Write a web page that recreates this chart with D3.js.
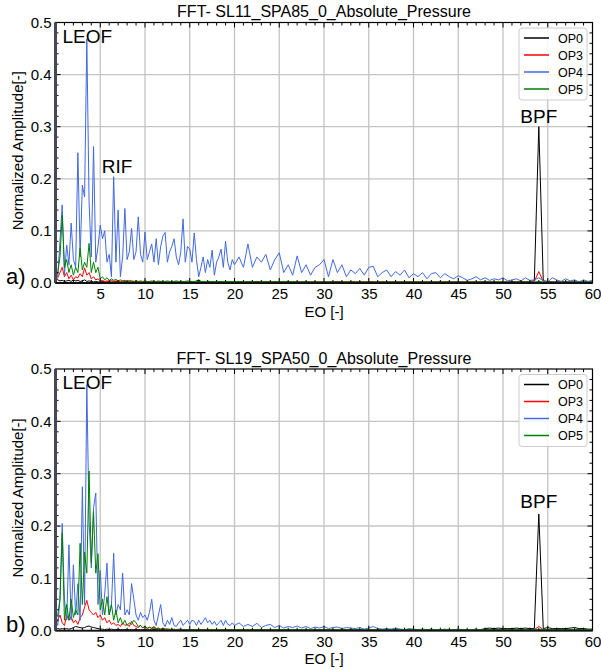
<!DOCTYPE html>
<html><head><meta charset="utf-8">
<script src="https://cdn.jsdelivr.net/npm/d3@7"></script>
<style>body{margin:0;background:#fff} text{font-family:"Liberation Sans",Arial,sans-serif;fill:#000}</style>
</head><body><svg id="c" width="601" height="670"></svg>
<script>
// EO sampling grid: 0..19.75 step 0.25, then 20..60 step 0.5
const eo = d3.range(0, 20, 0.25).concat(d3.range(20, 60.001, 0.5));
const xTicks = [5,10,15,20,25,30,35,40,45,50,55,60];
const yTicks = [0,0.1,0.2,0.3,0.4,0.5];
const seriesNames = ["OP0","OP3","OP4","OP5"];
const seriesColors = ["#000000","#ff0000","#4169e1","#008000"];

// ---- Panel a) SL11_SPA85 ----
const a_OP0 = [
0.010,0.006,0.004,0.005,0.003,0.004,0.005,0.003,0.006,0.004,0.005,0.003,0.004,0.006,0.003,0.004,0.003,0.002,0.003,0.002,
0.002,0.003,0.002,0.002,0.003,0.002,0.002,0.003,0.002,0.002,0.002,0.003,0.002,0.002,0.002,0.003,0.002,0.002,0.002,0.002,
0.002,0.002,0.003,0.002,0.002,0.002,0.002,0.003,0.002,0.002,0.002,0.002,0.002,0.003,0.002,0.002,0.002,0.002,0.003,0.002,
0.002,0.003,0.002,0.004,0.006,0.003,0.002,0.002,0.002,0.003,0.002,0.002,0.002,0.002,0.003,0.002,0.002,0.002,0.002,0.002,
0.002,0.003,0.002,0.002,0.002,0.003,0.002,0.002,0.002,0.002,0.002,0.002,0.003,0.002,0.002,0.002,0.002,0.002,0.002,0.002,
0.002,0.002,0.002,0.003,0.002,0.002,0.002,0.002,0.002,0.002,0.002,0.002,0.002,0.002,0.002,0.002,0.002,0.002,0.002,0.002,
0.002,0.002,0.002,0.002,0.002,0.002,0.002,0.002,0.002,0.002,0.002,0.002,0.002,0.002,0.002,0.002,0.003,0.002,0.002,0.002,
0.002,0.002,0.003,0.002,0.003,0.002,0.003,0.004,0.300,0.004,0.003,0.002,0.002,0.002,0.002,0.002,0.002,0.002,0.002,0.002,
0.002];
const a_OP3 = [
0.005,0.010,0.020,0.030,0.012,0.020,0.008,0.015,0.006,0.012,0.010,0.018,0.012,0.029,0.015,0.020,0.008,0.012,0.006,0.008,
0.004,0.005,0.003,0.004,0.003,0.005,0.003,0.004,0.003,0.003,0.004,0.003,0.003,0.002,0.003,0.003,0.002,0.003,0.002,0.002,
0.002,0.002,0.002,0.002,0.002,0.002,0.002,0.002,0.002,0.002,0.002,0.002,0.002,0.002,0.002,0.002,0.002,0.002,0.002,0.002,
0.002,0.002,0.002,0.002,0.002,0.002,0.002,0.002,0.002,0.002,0.002,0.002,0.002,0.002,0.002,0.002,0.002,0.002,0.002,0.002,
0.002,0.002,0.002,0.002,0.002,0.002,0.002,0.002,0.002,0.002,0.002,0.002,0.002,0.002,0.002,0.002,0.002,0.002,0.002,0.002,
0.002,0.002,0.002,0.002,0.002,0.002,0.002,0.002,0.002,0.002,0.002,0.002,0.002,0.002,0.002,0.002,0.002,0.002,0.002,0.002,
0.002,0.002,0.002,0.002,0.002,0.002,0.002,0.002,0.002,0.002,0.002,0.002,0.002,0.002,0.002,0.002,0.002,0.002,0.002,0.002,
0.002,0.002,0.002,0.002,0.002,0.002,0.002,0.003,0.022,0.003,0.002,0.002,0.002,0.002,0.002,0.002,0.002,0.002,0.002,0.002,
0.002];
const a_OP4 = [
0.020,0.012,0.080,0.150,0.015,0.073,0.035,0.115,0.045,0.030,0.250,0.050,0.188,0.165,0.468,0.156,0.050,0.262,0.040,0.070,
0.111,0.085,0.100,0.040,0.055,0.012,0.204,0.040,0.140,0.012,0.050,0.143,0.045,0.060,0.105,0.045,0.060,0.127,0.055,0.040,
0.098,0.045,0.060,0.075,0.040,0.085,0.035,0.070,0.090,0.097,0.040,0.060,0.070,0.085,0.050,0.035,0.060,0.123,0.040,0.070,
0.065,0.040,0.096,0.045,0.012,0.030,0.050,0.020,0.045,0.030,0.063,0.015,0.040,0.050,0.065,0.030,0.080,0.040,0.025,0.045,
0.035,0.050,0.030,0.075,0.030,0.050,0.040,0.055,0.025,0.045,0.058,0.020,0.035,0.015,0.052,0.020,0.035,0.015,0.030,0.035,
0.045,0.012,0.045,0.020,0.035,0.012,0.025,0.018,0.028,0.015,0.030,0.032,0.012,0.020,0.025,0.012,0.022,0.015,0.025,0.010,
0.018,0.012,0.020,0.008,0.018,0.020,0.010,0.018,0.012,0.008,0.014,0.010,0.005,0.008,0.012,0.006,0.010,0.005,0.008,0.006,
0.010,0.004,0.006,0.008,0.004,0.010,0.005,0.006,0.010,0.004,0.002,0.010,0.006,0.003,0.008,0.004,0.006,0.002,0.006,0.003,
0.005];
const a_OP5 = [
0.010,0.020,0.050,0.130,0.030,0.045,0.020,0.035,0.015,0.030,0.020,0.067,0.025,0.040,0.030,0.076,0.020,0.040,0.020,0.030,
0.008,0.012,0.006,0.010,0.005,0.008,0.005,0.007,0.004,0.006,0.004,0.005,0.003,0.005,0.004,0.003,0.004,0.003,0.004,0.003,
0.004,0.003,0.003,0.004,0.003,0.003,0.004,0.003,0.003,0.003,0.004,0.003,0.003,0.003,0.004,0.003,0.003,0.003,0.003,0.004,
0.003,0.003,0.003,0.003,0.003,0.003,0.003,0.003,0.003,0.003,0.003,0.003,0.003,0.003,0.003,0.003,0.003,0.003,0.003,0.003,
0.003,0.003,0.002,0.003,0.003,0.002,0.003,0.003,0.002,0.003,0.002,0.003,0.002,0.003,0.002,0.002,0.003,0.002,0.002,0.002,
0.002,0.002,0.002,0.002,0.002,0.002,0.002,0.002,0.002,0.002,0.002,0.002,0.002,0.002,0.002,0.002,0.002,0.002,0.002,0.002,
0.002,0.002,0.002,0.002,0.002,0.002,0.002,0.002,0.002,0.002,0.002,0.002,0.002,0.002,0.002,0.002,0.002,0.002,0.002,0.002,
0.002,0.002,0.002,0.002,0.002,0.002,0.002,0.002,0.003,0.002,0.002,0.002,0.002,0.002,0.002,0.002,0.002,0.002,0.002,0.002,
0.002];

// ---- Panel b) SL19_SPA50 ----
const b_OP0 = [
0.005,0.004,0.003,0.004,0.003,0.004,0.003,0.004,0.006,0.008,0.007,0.006,0.005,0.006,0.008,0.009,0.007,0.006,0.005,0.004,
0.003,0.003,0.002,0.003,0.002,0.003,0.002,0.002,0.003,0.002,0.002,0.002,0.002,0.002,0.002,0.002,0.002,0.002,0.002,0.002,
0.002,0.002,0.002,0.002,0.002,0.002,0.002,0.002,0.002,0.002,0.002,0.002,0.002,0.002,0.002,0.002,0.002,0.002,0.002,0.002,
0.002,0.002,0.002,0.002,0.002,0.002,0.002,0.002,0.002,0.002,0.002,0.002,0.002,0.002,0.002,0.002,0.002,0.002,0.002,0.002,
0.002,0.002,0.002,0.002,0.002,0.002,0.002,0.002,0.002,0.002,0.002,0.002,0.002,0.002,0.002,0.002,0.002,0.002,0.002,0.002,
0.002,0.002,0.002,0.002,0.002,0.002,0.002,0.002,0.002,0.002,0.002,0.002,0.002,0.002,0.002,0.002,0.002,0.002,0.002,0.002,
0.002,0.002,0.002,0.002,0.002,0.002,0.002,0.002,0.002,0.002,0.002,0.002,0.002,0.002,0.002,0.002,0.004,0.005,0.004,0.005,
0.004,0.004,0.004,0.005,0.004,0.005,0.004,0.004,0.223,0.004,0.006,0.004,0.004,0.004,0.004,0.005,0.006,0.004,0.004,0.003,
0.003];
const b_OP3 = [
0.010,0.020,0.030,0.015,0.010,0.030,0.020,0.027,0.015,0.020,0.012,0.025,0.030,0.045,0.058,0.040,0.035,0.030,0.035,0.025,
0.030,0.020,0.025,0.015,0.020,0.012,0.015,0.010,0.012,0.008,0.015,0.010,0.012,0.008,0.018,0.010,0.008,0.006,0.010,0.005,
0.008,0.004,0.006,0.005,0.008,0.004,0.005,0.003,0.004,0.003,0.003,0.002,0.003,0.002,0.002,0.003,0.002,0.002,0.002,0.002,
0.002,0.002,0.002,0.002,0.002,0.002,0.002,0.002,0.002,0.002,0.002,0.002,0.002,0.002,0.002,0.002,0.002,0.002,0.002,0.002,
0.002,0.002,0.002,0.002,0.002,0.002,0.002,0.002,0.002,0.002,0.002,0.002,0.002,0.002,0.002,0.002,0.002,0.002,0.002,0.002,
0.002,0.002,0.002,0.002,0.002,0.002,0.002,0.002,0.002,0.002,0.002,0.002,0.002,0.002,0.002,0.002,0.002,0.002,0.002,0.002,
0.002,0.002,0.002,0.002,0.002,0.002,0.002,0.002,0.002,0.002,0.002,0.002,0.002,0.002,0.002,0.002,0.002,0.002,0.002,0.002,
0.002,0.002,0.002,0.002,0.002,0.002,0.002,0.002,0.008,0.002,0.002,0.002,0.002,0.002,0.002,0.002,0.002,0.002,0.002,0.002,
0.002];
const b_OP4 = [
0.020,0.010,0.060,0.205,0.060,0.020,0.164,0.020,0.126,0.030,0.090,0.020,0.275,0.050,0.470,0.210,0.120,0.235,0.263,0.050,
0.115,0.030,0.070,0.129,0.030,0.050,0.148,0.030,0.050,0.040,0.110,0.030,0.040,0.030,0.090,0.060,0.030,0.020,0.035,0.025,
0.030,0.020,0.035,0.060,0.020,0.010,0.030,0.050,0.015,0.008,0.020,0.012,0.025,0.010,0.008,0.015,0.020,0.010,0.015,0.020,
0.012,0.020,0.018,0.010,0.020,0.012,0.018,0.025,0.015,0.020,0.012,0.018,0.010,0.015,0.020,0.010,0.020,0.012,0.010,0.015,
0.010,0.015,0.008,0.012,0.008,0.014,0.006,0.010,0.012,0.006,0.010,0.005,0.008,0.006,0.009,0.005,0.008,0.004,0.007,0.005,
0.008,0.004,0.006,0.007,0.004,0.006,0.005,0.004,0.006,0.003,0.005,0.008,0.004,0.003,0.004,0.003,0.005,0.003,0.002,0.004,
0.003,0.002,0.003,0.002,0.003,0.002,0.002,0.003,0.002,0.002,0.003,0.002,0.002,0.002,0.003,0.002,0.002,0.002,0.002,0.002,
0.002,0.002,0.002,0.002,0.002,0.002,0.002,0.002,0.002,0.002,0.002,0.002,0.002,0.002,0.002,0.002,0.002,0.002,0.002,0.002,
0.002];
const b_OP5 = [
0.020,0.030,0.060,0.187,0.020,0.050,0.020,0.060,0.025,0.040,0.030,0.167,0.050,0.150,0.110,0.305,0.130,0.228,0.110,0.147,
0.040,0.060,0.030,0.065,0.030,0.050,0.020,0.040,0.015,0.025,0.012,0.020,0.010,0.015,0.012,0.020,0.015,0.008,0.010,0.006,
0.008,0.005,0.007,0.004,0.006,0.004,0.005,0.003,0.004,0.003,0.003,0.003,0.002,0.003,0.002,0.002,0.003,0.002,0.002,0.002,
0.002,0.002,0.002,0.002,0.002,0.002,0.002,0.002,0.002,0.002,0.002,0.002,0.002,0.002,0.002,0.002,0.002,0.002,0.002,0.002,
0.002,0.002,0.002,0.002,0.002,0.002,0.002,0.002,0.002,0.002,0.002,0.002,0.002,0.002,0.002,0.002,0.002,0.002,0.002,0.002,
0.002,0.002,0.002,0.002,0.002,0.002,0.002,0.002,0.002,0.002,0.002,0.002,0.002,0.002,0.002,0.002,0.002,0.002,0.002,0.002,
0.002,0.002,0.002,0.002,0.002,0.002,0.002,0.002,0.002,0.002,0.002,0.002,0.002,0.002,0.002,0.002,0.002,0.002,0.002,0.002,
0.002,0.002,0.002,0.002,0.002,0.002,0.002,0.002,0.002,0.002,0.002,0.002,0.002,0.002,0.002,0.002,0.002,0.002,0.002,0.002,
0.002];

const panels = [
  {title:"FFT- SL11_SPA85_0_Absolute_Pressure", tag:"a)", top:22.5, bottom:283,
   series:[a_OP0,a_OP3,a_OP4,a_OP5],
   notes:[{t:"LEOF",x:0.78,y:0.461},{t:"RIF",x:5.18,y:0.2105},{t:"BPF",x:51.94,y:0.3065}]},
  {title:"FFT- SL19_SPA50_0_Absolute_Pressure", tag:"b)", top:369, bottom:630.7,
   series:[b_OP0,b_OP3,b_OP4,b_OP5],
   notes:[{t:"LEOF",x:0.78,y:0.461},{t:"BPF",x:51.94,y:0.2345}]}
];

panels.forEach(p => p.series.forEach(s => { if (s.length !== eo.length) throw new Error("len " + s.length + " vs " + eo.length); }));

const svg = d3.select("#c");
const L = 55.5, R = 592.5;

panels.forEach((p, pi) => {
  const x = d3.scaleLinear().domain([0, 60]).range([L, R]);
  const y = d3.scaleLinear().domain([0, 0.5]).range([p.bottom, p.top]);
  const g = svg.append("g");

  // grid
  g.append("g").selectAll("line").data(d3.range(5, 60, 5)).join("line")
    .attr("x1", d => x(d)).attr("x2", d => x(d)).attr("y1", y(0)).attr("y2", y(0.5))
    .attr("stroke", "#c4c4c4").attr("stroke-width", 1.3);
  g.append("g").selectAll("line").data([0.1,0.2,0.3,0.4]).join("line")
    .attr("x1", L).attr("x2", R).attr("y1", d => y(d)).attr("y2", d => y(d))
    .attr("stroke", "#c4c4c4").attr("stroke-width", 1.3);

  // clip
  const cid = "clip" + pi;
  svg.append("clipPath").attr("id", cid).append("rect")
    .attr("x", L).attr("y", p.top).attr("width", R - L).attr("height", p.bottom - p.top);

  // lines
  const line = d3.line().x((d, i) => x(eo[i])).y(d => y(d));
  const lg = g.append("g").attr("clip-path", `url(#${cid})`);
  p.series.forEach((s, si) => {
    lg.append("path").datum(s).attr("d", line).attr("fill", "none")
      .attr("stroke", seriesColors[si]).attr("stroke-width", 1).attr("stroke-linejoin", "round");
  });

  // minor ticks (inward) on all sides
  const minorX = d3.range(1, 60, 1);
  const minorY = d3.range(0.02, 0.5, 0.02);
  const tk = g.append("g").attr("stroke", "#000").attr("stroke-width", 1);
  minorX.forEach(v => {
    const len = (v % 5 === 0) ? 5 : 3;
    tk.append("line").attr("x1", x(v)).attr("x2", x(v)).attr("y1", y(0.5)).attr("y2", y(0.5) + len);
    tk.append("line").attr("x1", x(v)).attr("x2", x(v)).attr("y1", y(0)).attr("y2", y(0) - len);
  });
  minorY.forEach(v => {
    const major = Math.abs(v * 10 - Math.round(v * 10)) < 1e-6;
    const len = major ? 5 : 3;
    tk.append("line").attr("x1", R).attr("x2", R - len).attr("y1", y(v)).attr("y2", y(v));
    tk.append("line").attr("x1", L).attr("x2", L + len).attr("y1", y(v)).attr("y2", y(v));
  });

  // frame
  g.append("rect").attr("x", L).attr("y", p.top).attr("width", R - L).attr("height", p.bottom - p.top)
    .attr("fill", "none").attr("stroke", "#000").attr("stroke-width", 1.2);
  g.append("line").attr("x1", L).attr("x2", L).attr("y1", y(0)).attr("y2", y(0.5))
    .attr("stroke", "#4b4655").attr("stroke-width", 3);
  g.append("line").attr("x1", L).attr("x2", R).attr("y1", y(0)).attr("y2", y(0))
    .attr("stroke", "#111").attr("stroke-width", 1.8);

  // axes
  const ax = g.append("g").attr("transform", `translate(0,${y(0)})`)
    .call(d3.axisBottom(x).tickValues(xTicks).tickSize(0).tickPadding(5.5).tickFormat(d3.format("d")));
  ax.select(".domain").remove();
  ax.selectAll("text").style("font-size", "15px").style("font-family", "'Liberation Sans',Arial,sans-serif");
  const ay = g.append("g").attr("transform", `translate(${L},0)`)
    .call(d3.axisLeft(y).tickValues(yTicks).tickSize(0).tickPadding(4).tickFormat(d3.format(".1f")));
  ay.select(".domain").remove();
  ay.selectAll("text").style("font-size", "15px").style("font-family", "'Liberation Sans',Arial,sans-serif");

  // labels
  g.append("text").attr("x", (L + R) / 2).attr("y", p.top - 5.5).attr("text-anchor", "middle")
    .style("font-size", "16px").text(p.title);
  g.append("text").attr("x", (L + R) / 2).attr("y", y(0) + 33.5).attr("text-anchor", "middle")
    .style("font-size", "15px").text("EO [-]");
  g.append("text").attr("transform", `translate(23,${(p.top + p.bottom) / 2 - 2}) rotate(-90)`)
    .attr("text-anchor", "middle").style("font-size", "15px").text("Normalized Amplitude[-]");
  g.append("text").attr("x", 6).attr("y", y(0) + 1).style("font-size", "22px").text(p.tag);

  p.notes.forEach(n => {
    g.append("text").attr("x", x(n.x)).attr("y", y(n.y)).style("font-size", "19px").text(n.t);
  });

  // legend
  const lgX = 519, lgY = p.top + 5.5;
  const leg = g.append("g");
  leg.append("rect").attr("x", lgX).attr("y", lgY).attr("width", 68).attr("height", 72)
    .attr("rx", 3).attr("fill", "#fff").attr("fill-opacity", 0.85).attr("stroke", "#cccccc");
  seriesNames.forEach((nm, i) => {
    const yy = lgY + 10 + i * 17;
    leg.append("line").attr("x1", lgX + 5).attr("x2", lgX + 30).attr("y1", yy).attr("y2", yy)
      .attr("stroke", seriesColors[i]).attr("stroke-width", 1.5);
    leg.append("text").attr("x", lgX + 39).attr("y", yy).attr("dy", "0.36em")
      .style("font-size", "12.5px").text(nm);
  });
});
</script>
</body></html>
